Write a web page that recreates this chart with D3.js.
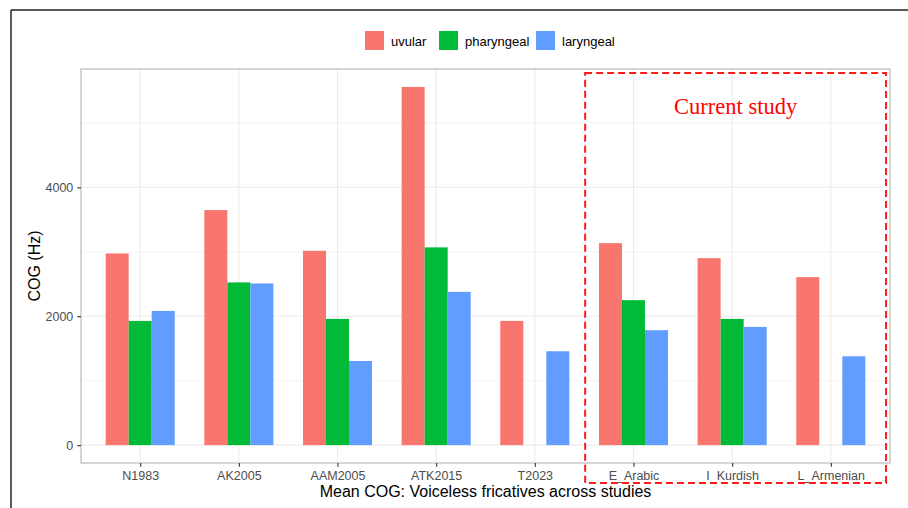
<!DOCTYPE html>
<html>
<head>
<meta charset="utf-8">
<script src="https://cdn.jsdelivr.net/npm/d3@7/dist/d3.min.js"></script>
<style>
html,body{margin:0;padding:0;background:#fff;}
svg{display:block;font-family:"Liberation Sans",Arial,Helvetica,sans-serif;}
</style>
</head>
<body>
<svg id="chart" width="908" height="508"></svg>
<script>
const categories = ["N1983","AK2005","AAM2005","ATK2015","T2023","E_Arabic","I_Kurdish","L_Armenian"];
const seriesNames = ["uvular","pharyngeal","laryngeal"];
const uvular     = [2974, 3647, 3015, 5558, 1927, 3134, 2901, 2606];
const pharyngeal = [1927, 2524, 1958, 3068, null, 2249, 1958, null];
const laryngeal  = [2082, 2508, 1305, 2378, 1456, 1783, 1834, 1378];
const yTicks = [0, 2000, 4000];
const yMinor = [1000, 3000, 5000];
const colors = ["#F8766D", "#00BA38", "#619CFF"];
const highlighted = ["E_Arabic","I_Kurdish","L_Armenian"];
const highlightLabel = "Current study";
const xTitle = "Mean COG: Voiceless fricatives across studies";
const yTitle = "COG (Hz)";

const series = [uvular, pharyngeal, laryngeal];
const svg = d3.select("#chart");

// outer frame (top and left lines)
svg.append("line").attr("x1",11).attr("x2",908).attr("y1",10).attr("y2",10)
  .attr("stroke","#222").attr("stroke-width",1.6);
svg.append("line").attr("x1",11).attr("x2",11).attr("y1",10).attr("y2",508)
  .attr("stroke","#333").attr("stroke-width",1.6);

const P = {l:81, r:890, t:69, b:463};
const maxV = d3.max(series.flat().filter(v=>v!=null));
const y = d3.scaleLinear().domain([-0.05*maxV, 1.05*maxV]).range([P.b, P.t]);
const x = d3.scalePoint().domain(categories).range([P.l, P.r]).padding(0.6);
const step = x.step();
const dodge = d3.scaleBand().domain(seriesNames).range([-0.35*step, 0.35*step]).padding(0);

const g = svg.append("g");
// grid
g.selectAll(".minor").data(yMinor).join("line")
  .attr("x1",P.l).attr("x2",P.r).attr("y1",d=>y(d)).attr("y2",d=>y(d))
  .attr("stroke","#ebebeb").attr("stroke-width",0.6);
g.selectAll(".major").data(yTicks).join("line")
  .attr("x1",P.l).attr("x2",P.r).attr("y1",d=>y(d)).attr("y2",d=>y(d))
  .attr("stroke","#ebebeb").attr("stroke-width",1.1);
g.selectAll(".vmajor").data(categories).join("line")
  .attr("x1",d=>x(d)).attr("x2",d=>x(d)).attr("y1",P.t).attr("y2",P.b)
  .attr("stroke","#ebebeb").attr("stroke-width",1.1);

// bars
seriesNames.forEach((s,si)=>{
  const data = categories.map((c,i)=>({c, v: series[si][i]})).filter(d=>d.v!=null);
  g.selectAll(".bar"+si).data(data).join("rect")
    .attr("x", d=>x(d.c)+dodge(s))
    .attr("width", dodge.bandwidth())
    .attr("y", d=>y(d.v))
    .attr("height", d=>y(0)-y(d.v))
    .attr("fill", colors[si]);
});

// panel border
g.append("rect").attr("x",P.l).attr("y",P.t).attr("width",P.r-P.l).attr("height",P.b-P.t)
  .attr("fill","none").attr("stroke","#b3b3b3").attr("stroke-width",1.1);

// axes
const yAxis = d3.axisLeft(y).tickValues(yTicks).tickFormat(d3.format("d")).tickSize(3.7).tickPadding(4);
const ya = svg.append("g").attr("transform",`translate(${P.l},0)`).call(yAxis);
const xAxis = d3.axisBottom(x).tickSize(3.7).tickPadding(2);
const xa = svg.append("g").attr("transform",`translate(0,${P.b})`).call(xAxis);
[ya,xa].forEach(a=>{
  a.select(".domain").remove();
  a.selectAll(".tick line").attr("stroke","#333").attr("stroke-width",1.1);
  a.selectAll(".tick text").attr("fill","#4d4d4d").style("font-size","12.5px")
    .style("font-family","'Liberation Sans',Arial,sans-serif");
});
xa.selectAll(".tick text").attr("dy","0.9em");

// axis titles
svg.append("text").attr("x",(P.l+P.r)/2).attr("y",497).attr("text-anchor","middle")
  .style("font-size","16px").attr("fill","#000").text(xTitle);
svg.append("text").attr("transform",`translate(40,${(P.t+P.b)/2}) rotate(-90)`)
  .attr("text-anchor","middle").style("font-size","16px").attr("fill","#000").text(yTitle);

// legend
const legendX = [365, 439, 536];
const lg = svg.append("g");
seriesNames.forEach((s,i)=>{
  lg.append("rect").attr("x",legendX[i]).attr("y",31).attr("width",19).attr("height",19)
    .attr("fill",colors[i]);
  lg.append("text").attr("x",legendX[i]+26).attr("y",45.5).style("font-size","13px")
    .attr("fill","#000").text(s);
});

// highlight box
const hx0 = x(highlighted[0]) - 0.49*step;
const hx1 = x(highlighted[highlighted.length-1]) + 0.56*step;
svg.append("rect").attr("x",hx0).attr("y",73).attr("width",hx1-hx0).attr("height",410)
  .attr("fill","none").attr("stroke","#ff1a1a").attr("stroke-width",2)
  .attr("stroke-dasharray","7,4");
svg.append("text").attr("x",(hx0+hx1)/2).attr("y",114).attr("text-anchor","middle")
  .style("font-family","'Liberation Serif','DejaVu Serif',serif").style("font-size","22.5px")
  .attr("fill","#ff0000").text(highlightLabel);
</script>
</body>
</html>
